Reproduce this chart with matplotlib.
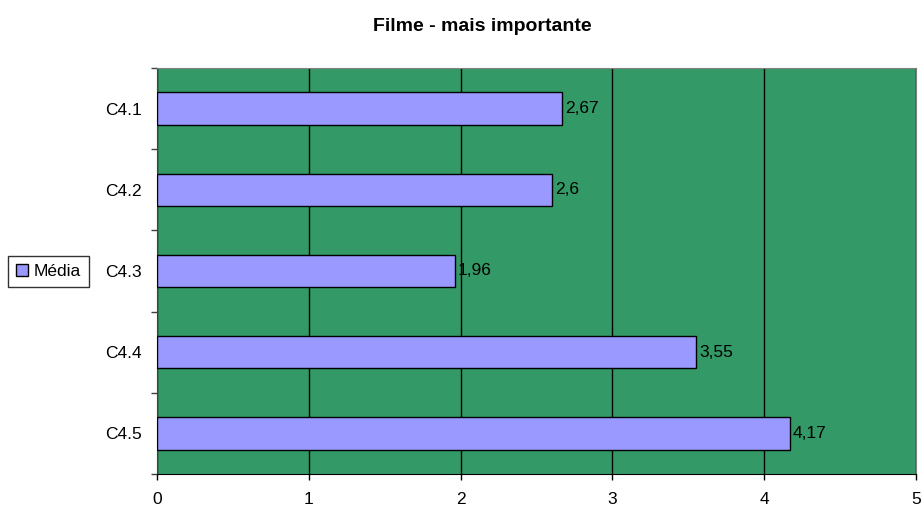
import matplotlib
matplotlib.use("Agg")
import matplotlib.pyplot as plt
from matplotlib.patches import Patch

plt.rcParams['font.family'] = ['Liberation Sans', 'DejaVu Sans']

# Average score per question
categories = ["C4.1", "C4.2", "C4.3", "C4.4", "C4.5"]
media = [2.67, 2.6, 1.96, 3.55, 4.17]
value_labels = ["2,67", "2,6", "1,96", "3,55", "4,17"]
x_ticks = [0, 1, 2, 3, 4, 5]

FS = 12.5

fig = plt.figure(figsize=(9.23, 5.07), dpi=100)
ax = fig.add_axes([0.1701, 0.0651, 0.8223, 0.8008])
ax.set_facecolor("#339966")

pos = list(range(len(categories)))
ax.barh(pos, media, height=0.4, color="#9999FF", edgecolor="black", linewidth=1.0, zorder=3)
for p, v, lab in zip(pos, media, value_labels):
    ax.text(v + 0.02, p, lab, va="center", ha="left", fontsize=FS, zorder=4)

ax.set_xlim(0, 5)
ax.set_ylim(len(categories) - 0.5, -0.5)
ax.set_xticks(x_ticks)
ax.set_xticklabels([str(t) for t in x_ticks], fontsize=FS)
ax.set_yticks(pos)
ax.set_yticklabels(categories, fontsize=FS)
ax.tick_params(axis="y", length=0, pad=11)
ax.set_yticks([i - 0.5 for i in range(len(categories) + 1)], minor=True)
ax.tick_params(axis="y", which="minor", length=4.5, width=1, color="#404040")
ax.tick_params(axis="x", length=4, width=1, pad=9, color="black")

ax.grid(axis="x", color="black", linewidth=1, zorder=1)
ax.set_axisbelow(True)

ax.spines["left"].set_color("#404040")
ax.spines["bottom"].set_color("black")
ax.spines["top"].set_color("#808080")
ax.spines["right"].set_color("#808080")

fig.suptitle("Filme - mais importante", x=0.523, y=0.947, va="center",
             fontsize=14, fontweight="bold")

handle = Patch(facecolor="#9999FF", edgecolor="black", label="Média")
fig.legend(handles=[handle], loc="center left", bbox_to_anchor=(0.0087, 0.465),
           frameon=True, fancybox=False, edgecolor="black", fontsize=FS,
           handlelength=0.7, handleheight=0.7, handletextpad=0.35,
           borderpad=0.45, borderaxespad=0)

fig.savefig("out.png", dpi=100)
